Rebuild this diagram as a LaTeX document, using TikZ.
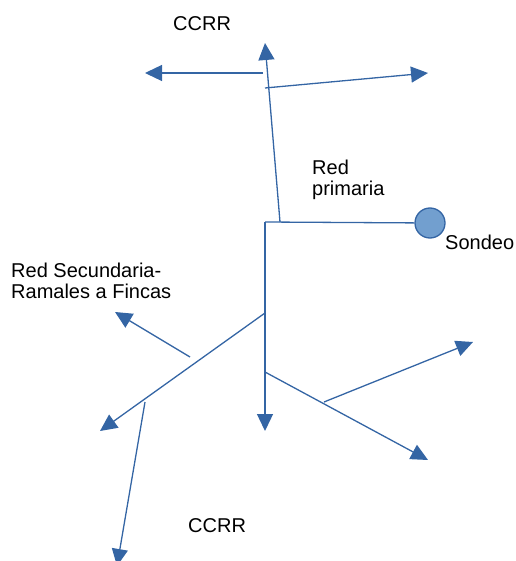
\documentclass[tikz,border=0pt]{standalone}
\usepackage{fontspec}
\setmainfont{Liberation Sans}
\usetikzlibrary{positioning,arrows.meta}
\definecolor{pipeblue}{RGB}{52,101,164}
\definecolor{wellblue}{RGB}{114,159,207}

\begin{document}
\begin{tikzpicture}[x=1pt, y=-1pt, font=\fontsize{20}{21}\selectfont,
		pipe/.style={draw=pipeblue, line width=1.3pt},
		feed/.style={pipe, -{Triangle[length=17pt,width=16pt]}},
		lbl/.style={anchor=base west, align=left, inner sep=0pt}]
		\useasboundingbox (0,0) rectangle (515,561);
		% well and primary line
		\node[circle, pipe, fill=wellblue, minimum size=30pt, inner sep=0pt] (S) at (430,223) {};
		\coordinate (J0) at (265,222);
		\coordinate (T0) at (280,222);
		\coordinate (T1) at (265,43);
		\draw[pipe] (J0) -- (S);
		\draw[feed] (T0) -- (T1);
		% CCRR top
		\coordinate (A0) at (263,73);
		\coordinate (A1) at (145,73);
		\coordinate (B0) at (265,88);
		\coordinate (B1) at (428,73);
		\draw[feed] (A0) -- (A1);
		\draw[feed] (B0) -- (B1);
		% secondary lines
		\coordinate (V1) at (265,431);
		\coordinate (D0) at (265,313);
		\coordinate (D1) at (100,431);
		\coordinate (E0) at (190,357);
		\coordinate (E1) at (115,312);
		\coordinate (F0) at (145,402);
		\coordinate (F1) at (117,566);
		\coordinate (G0) at (265,372);
		\coordinate (G1) at (428,460);
		\coordinate (H0) at (324,402);
		\coordinate (H1) at (473,342);
		\draw[feed] (J0) -- (V1);
		\draw[feed] (D0) -- (D1);
		\draw[feed] (E0) -- (E1);
		\draw[feed] (F0) -- (F1);
		\draw[feed] (G0) -- (G1);
		\draw[feed] (H0) -- (H1);
		% labels (base = last line)
		\node[lbl] (CCtop) at (173,31) {CCRR};
		\node[lbl] (CCbot) at (188,532) {CCRR};
		\node[lbl] (prim) at (312,196) {Red\\primaria};
		\node[lbl] (sond) at (445,249) {Sondeo};
		\node[lbl] (sec) at (11,298) {Red Secundaria-\\Ramales a Fincas};
	\end{tikzpicture}
\end{document}
